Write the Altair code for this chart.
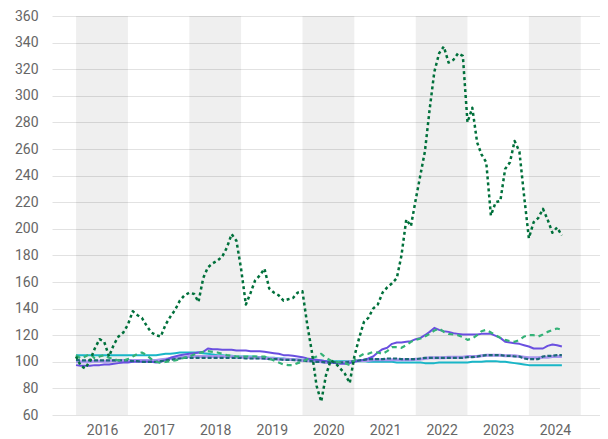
import altair as alt
import pandas as pd

# ---------------- data ----------------
months = pd.date_range("2016-01-01", periods=104, freq="MS").strftime("%Y-%m-%d").tolist()
year_labels = list(range(2016, 2025))
band_years = [2016, 2018, 2020, 2022, 2024]
y_ticks = list(range(60, 361, 20))

dark_green = [104, 97, 95, 101, 110, 117, 115, 104, 113, 119, 122, 128,
              138, 135, 133, 127, 122, 120, 119, 128, 134, 139, 146, 150,
              152, 151, 145, 163, 171, 174, 176, 179, 186, 196, 191, 170,
              143, 152, 161, 165, 170, 155, 152, 150, 146, 147, 148, 152,
              153, 128, 108, 82, 70, 90, 101, 99, 95, 91, 84, 104,
              118, 130, 133, 140, 143, 152, 156, 159, 163, 180, 207, 202,
              222, 241, 258, 290, 318, 332, 337, 325, 327, 332, 330, 280,
              291, 265, 256, 250, 210, 220, 221, 245, 250, 266, 258, 225,
              193, 205, 208, 215, 207, 197, 201, 195]

mid_green = [105, 102.5, 104, 106, 102.5, 104, 105, 103, 102, 101, 101, 102,
             104, 106, 107, 105, 102, 100, 99, 100, 100.5, 101, 102, 103,
             104, 105.5, 106.5, 107.5, 108, 107.5, 107, 106, 105, 104.5, 104, 104,
             104, 104, 104, 104, 104, 102.5, 101, 99.5, 98, 97.5, 97.5, 99,
             100, 102, 102.5, 104, 106, 103, 101, 100, 99.5, 99, 97.6, 101,
             104, 106, 106, 107.5, 107, 106, 108, 111, 111, 110.5, 112.5, 115,
             116.5, 117.5, 119, 121, 123.5, 125, 122.5, 121, 120.5, 120, 118.5, 116.5,
             117.5, 120, 123, 124, 122, 120, 118, 116.5, 115.5, 115, 116.5, 119,
             120, 120, 119, 120.5, 122.5, 124, 125, 124]

purple = [97.5, 97, 97, 97, 97.5, 97.5, 98, 98, 98.5, 99, 99.5, 99.5,
          100, 100, 100, 100, 100, 99.5, 100, 101.5, 103, 104, 105, 105.5,
          106, 106.5, 107, 107.5, 110, 109.5, 109.5, 109, 109, 109, 108.5, 108.5,
          108.5, 108, 108, 108, 107.5, 107, 106.5, 106, 105, 105, 104.5, 104,
          103.5, 102.5, 102, 101.5, 101, 100.5, 99.5, 99, 98.5, 98.5, 99, 100,
          101, 101.5, 102.5, 104, 107, 109.5, 110.5, 113.5, 114.5, 114.5, 115, 115.5,
          117, 118, 120, 122.5, 125.5, 124, 123, 122.5, 121.5, 121, 120.5, 120.5,
          120.5, 120.5, 121, 121, 121, 119.5, 118, 115, 114.5, 114, 113.5, 112.5,
          111.5, 110, 110, 110, 112, 113, 112.5, 111.5]

light_purple = [100, 100, 100, 100, 100.5, 100.5, 100.5, 100.5, 101, 101, 101, 101,
                101, 101, 101, 101, 101, 101, 101.5, 102, 102.5, 103, 103, 103.5,
                104, 104, 104, 104, 104, 104, 104, 104, 104, 104, 103.5, 103.5,
                103.5, 103, 103, 103, 102.5, 102.5, 102.5, 102, 102, 102, 101.5, 101.5,
                101, 101, 100.5, 100.5, 100, 99.5, 99.5, 99.5, 99.5, 99.5, 100, 100.5,
                101, 101, 101, 101.5, 101.5, 101.5, 101.5, 101.5, 101.5, 101.5, 101.5, 101.5,
                102, 102, 102.5, 103, 103, 103, 103, 103.5, 103.5, 103.5, 103.5, 104,
                104, 104, 104.5, 105, 105, 105, 105, 104.5, 104.5, 104.5, 104, 103.5,
                103, 103, 103, 103.5, 103.5, 104, 104, 104]

dark_teal = [101.5, 101, 101, 101, 101, 101, 101, 101, 101, 101, 101, 101,
             100.5, 100.5, 100, 100, 100, 100, 100.5, 101, 101.5, 102, 102.5, 103,
             103, 103, 103, 103, 103, 103, 103, 103, 103, 103, 103, 103,
             102.5, 102.5, 102.5, 102.5, 102.5, 102, 102, 102, 101.5, 101.5, 101.5, 101,
             101, 100.5, 100.5, 100, 100, 99.5, 99.5, 99.5, 99.5, 99.5, 100, 100.5,
             101, 101.5, 102, 102, 102, 102, 102.5, 102.5, 102.5, 102, 102, 102,
             102, 102.5, 103, 103, 103, 103, 103, 103, 103, 103, 103, 103.5,
             103.5, 104, 104.5, 105, 105, 105, 105, 104.5, 104.5, 104, 104, 102.5,
             102, 102, 102, 104, 104.5, 104.5, 105, 105]

cyan = [105, 105, 105, 105, 105, 105, 105, 105, 105, 105, 105, 105,
        105, 105, 105, 105, 105, 105, 105.5, 106, 106, 106.5, 107, 107,
        107, 107, 107, 106.5, 106, 105.5, 105, 105, 104.5, 104.5, 104, 104,
        104, 104, 104, 103.5, 103.5, 103, 103, 102.5, 102.5, 102, 102, 101.5,
        101.5, 101.5, 101, 101, 101, 100.5, 100.5, 100.5, 100.5, 100.5, 100.5, 100.5,
        100.5, 100.5, 100, 100, 100, 100, 100, 100, 99.5, 99.5, 99.5, 99.5,
        99.5, 99.5, 99, 99, 99, 99.5, 99.5, 99.5, 99.5, 99.5, 99.5, 99.5,
        100, 100, 100, 100.5, 100.5, 100.5, 100, 100, 99.5, 99, 98.5, 98,
        97.5, 97.5, 97.5, 97.5, 97.5, 97.5, 97.5, 97.5]

# name, values, colour, dash, width  (drawn in this order)
series = [
    ("cyan", cyan, "#19b6c7", None, 2),
    ("light_purple", light_purple, "#a895ee", None, 3),
    ("purple", purple, "#6a4fe0", None, 2),
    ("dark_teal", dark_teal, "#1b6878", [4, 2], 2.2),
    ("mid_green", mid_green, "#34b277", [5, 4], 2.2),
    ("dark_green", dark_green, "#00703b", [3, 3], 2.5),
]

# ---------------- chart ----------------
x_scale = alt.Scale(
    type="utc",
    domain=[alt.DateTime(year=2015, month=7, date=30, utc=True),
            alt.DateTime(year=2025, month=4, date=4, utc=True)],
)
y_scale = alt.Scale(domain=[60, 360], nice=False, zero=False)

x_axis = alt.Axis(
    values=[alt.DateTime(year=y, month=6, date=17, utc=True) for y in year_labels],
    labelExpr="utcFormat(datum.value, '%Y')",
    title=None, grid=False, domain=False, ticks=False,
    labelPadding=8, labelFontSize=14, labelColor="#666666", labelFont="Roboto",
)
y_axis = alt.Axis(
    values=y_ticks, title=None, domain=False, ticks=False, grid=True,
    gridColor="#e2e2e2", gridWidth=1, labelPadding=14, labelFontSize=14,
    labelColor="#666666", labelFont="Roboto",
)

bands_df = pd.DataFrame({
    "start": [f"{y}-01-01" for y in band_years],
    "end": [f"{y}-12-01" for y in band_years],
})
bands = alt.Chart(bands_df).mark_rect(color="#000000", opacity=0.063).encode(
    x=alt.X("start:T", scale=x_scale, axis=x_axis),
    x2="end:T",
)

layers = [bands]
for name, vals, col, dash, w in series:
    df = pd.DataFrame({"date": months, "value": vals})
    kw = dict(color=col, strokeWidth=w, strokeJoin="round")
    if dash:
        kw["strokeDash"] = dash
    layers.append(
        alt.Chart(df).mark_line(**kw).encode(
            x=alt.X("date:T", scale=x_scale, axis=x_axis),
            y=alt.Y("value:Q", scale=y_scale, axis=y_axis),
        )
    )

chart = alt.layer(*layers).properties(
    width=548, height=399,
    autosize=alt.AutoSizeParams(type="none"),
    padding={"left": 44, "top": 8, "right": 0, "bottom": 24},
).configure_view(stroke=None)

chart.save("out.html", embed_options={"renderer": "svg", "actions": False})
